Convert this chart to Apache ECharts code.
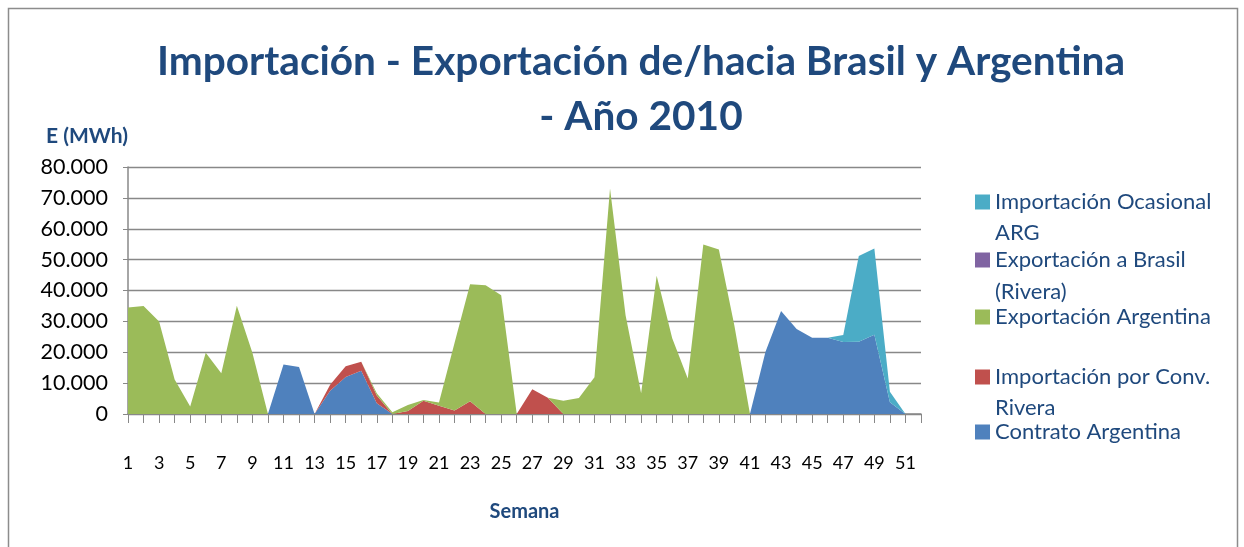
<!DOCTYPE html>
<html>
<head>
<meta charset="utf-8">
<script src="https://cdn.jsdelivr.net/npm/echarts@6/dist/echarts.min.js"></script>
<style>
  html, body { margin:0; padding:0; background:#fff; }
  #plot { width:1244px; height:547px; }
</style>
</head>
<body>
<div id="plot"></div>
<script>
// Weeks 1..52
const weeks = ['1','2','3','4','5','6','7','8','9','10','11','12','13','14','15','16','17','18','19','20',
  '21','22','23','24','25','26','27','28','29','30','31','32','33','34','35','36','37','38','39','40',
  '41','42','43','44','45','46','47','48','49','50','51','52'];

// MWh per week (stack order, bottom first)
const contratoArgentina = [0,0,0,0,0,0,0,0,0,0, 16000,15200,0,7500,12000,14000,3500,0,0,0,
  0,0,0,0,0,0,0,0,0,0, 0,0,0,0,0,0,0,0,0,0,
  0,20200,33400,27500,24700,24700,23300,23400,25700,3800, 0,0];
const importacionConvRivera = [0,0,0,0,0,0,0,0,0,0, 0,0,0,2000,3500,2900,2500,0,1000,4300,
  2700,1100,4100,0,0,0,8000,5300,0,0, 0,0,0,0,0,0,0,0,0,0,
  0,0,0,0,0,0,0,0,0,0, 0,0];
const exportacionArgentina = [34500,35000,30000,11200,2400,19800,13200,35100,19800,0, 0,0,0,0,0,0,700,600,1900,200,
  1000,21900,37900,41700,38500,0,0,0,4300,5200, 11900,73000,32000,6700,44800,24500,11500,54900,53300,28600,
  0,0,0,0,0,0,0,0,0,0, 0,0];
const exportacionBrasil = [0,0,0,0,0,0,0,0,0,0, 0,0,0,0,0,0,0,0,0,0,
  0,0,0,0,0,0,0,0,0,0, 0,0,0,0,0,0,0,0,0,0,
  0,0,0,0,0,0,0,0,0,0, 0,0];
const importacionOcasional = [0,0,0,0,0,0,0,0,0,0, 0,0,0,0,0,0,0,0,0,0,
  0,0,0,0,0,0,0,0,0,0, 0,0,0,0,0,0,0,0,0,0,
  0,0,0,0,0,0,2300,27800,27900,3400, 0,0];

const seriesNames = ['Contrato Argentina','Importación por Conv. Rivera','Exportación Argentina',
  'Exportación a Brasil (Rivera)','Importación Ocasional ARG'];
const seriesData = [contratoArgentina, importacionConvRivera, exportacionArgentina, exportacionBrasil, importacionOcasional];
const seriesColors = ['#4F81BD','#C0504D','#9BBB59','#8064A2','#4BACC6'];

const yTicks = [0,10000,20000,30000,40000,50000,60000,70000,80000];

const font = 'Lato, "Open Sans", sans-serif';
const navy = '#1F497D';
const gray = '#888888';

function fmt(v) {
  return String(v).replace(/\B(?=(\d{3})+(?!\d))/g, '.');
}

// legend entries, top to bottom: [series index, first line, second line, line centres y]
const legendRows = [
  [4, 'Importación Ocasional', 'ARG', 202, 233],
  [3, 'Exportación a Brasil', '(Rivera)', 260, 292],
  [2, 'Exportación Argentina', '', 317, 0],
  [1, 'Importación por Conv.', 'Rivera', 377, 408],
  [0, 'Contrato Argentina', '', 432, 0]
];

const legends = legendRows.map(([i, first, , cy]) => ({
  data: [seriesNames[i]],
  left: 975, top: cy - 11, padding: 0,
  orient: 'vertical',
  icon: 'rect', itemWidth: 15, itemHeight: 15,
  selectedMode: false,
  formatter: () => first,
  textStyle: { fontFamily: font, fontSize: 22, lineHeight: 22, color: navy }
}));

const graphics = [
  { type:'rect', silent:true, z:-1,
    shape:{ x:8.5, y:8.5, width:1229, height:600 },
    style:{ fill:'none', stroke:'#8c8c8c', lineWidth:1.5 } }
];
legendRows.forEach(([, , second, , cy2]) => {
  if (!second) return;
  graphics.push({ type:'text', left:995, top:cy2 - 11,
    style:{ text:second, fontFamily:font, fontSize:22, fill:navy } });
});

const chart = echarts.init(document.getElementById('plot'), null, { renderer:'canvas' });

chart.setOption({
  backgroundColor: '#fff',
  animation: false,
  title: {
    text: 'Importación - Exportación de/hacia Brasil y Argentina\n- Año 2010',
    left: 636, top: 29, textAlign: 'center',
    textStyle: { fontFamily: font, fontSize: 40.6, fontWeight: 'bold', color: navy, lineHeight: 55 }
  },
  legend: legends,
  graphic: graphics,
  grid: { left:128, right:323, top:167, bottom:133 },
  xAxis: {
    type:'category', data: weeks, boundaryGap:false,
    name:'Semana', nameLocation:'middle', nameGap:88,
    nameTextStyle:{ fontFamily:font, fontSize:20, fontWeight:'bold', color:navy },
    axisLine:{ lineStyle:{ color:gray, width:1.5 } },
    axisTick:{ interval:0, length:9, lineStyle:{ color:gray } },
    axisLabel:{ interval:1, margin:40, fontFamily:font, fontSize:18, color:'#000' },
    splitLine:{ show:false }
  },
  yAxis: {
    type:'value', min:yTicks[0], max:yTicks[yTicks.length-1], interval:yTicks[1]-yTicks[0],
    name:'E (MWh)', nameLocation:'end', nameGap:20,
    nameTextStyle:{ fontFamily:font, fontSize:21, fontWeight:'bold', color:navy, align:'right' },
    axisLine:{ show:true, lineStyle:{ color:gray, width:1.5 } },
    axisTick:{ show:true, length:5, lineStyle:{ color:gray } },
    axisLabel:{ margin:20, fontFamily:font, fontSize:21.5, color:'#000', formatter: fmt, padding:[7,0,0,0] },
    splitLine:{ show:true, lineStyle:{ color:gray, width:1.3 } }
  },
  series: seriesData.map((d, i) => ({
    type:'line', name: seriesNames[i], data: d, stack:'total',
    showSymbol:false, symbol:'none', silent:true,
    color: seriesColors[i],
    lineStyle:{ width:0, color: seriesColors[i] },
    areaStyle:{ color: seriesColors[i], opacity:1 },
    z: 2 + i
  }))
});
</script>
</body>
</html>
